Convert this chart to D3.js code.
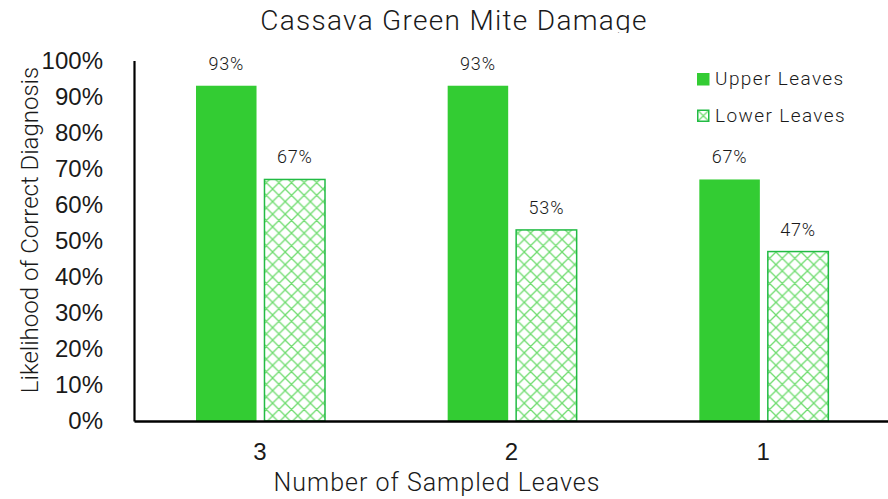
<!DOCTYPE html>
<html>
<head>
<meta charset="utf-8">
<script src="https://cdn.jsdelivr.net/npm/d3@7"></script>
<style>
  html, body { margin: 0; padding: 0; background: #fff; }
  svg { display: block; font-family: "Helvetica Neue", Roboto, "Liberation Sans", sans-serif; font-weight: 300; }
</style>
</head>
<body>
<svg id="chart" width="888" height="499"></svg>
<script>
// Sampled leaf counts and likelihood of a correct diagnosis (%)
const categories = ["3", "2", "1"];
const seriesNames = ["Upper Leaves", "Lower Leaves"];
const upperLeaves = [93, 93, 67];
const lowerLeaves = [67, 53, 47];
const yTicks = [0, 10, 20, 30, 40, 50, 60, 70, 80, 90, 100];

const svg = d3.select("#chart");
const margin = { left: 134, right: 0, top: 60.5, bottom: 78 };
const W = 888, H = 499;
const plotBottom = H - margin.bottom;
const ink = "#1a1a1a";

const defs = svg.append("defs");

// Crosshatch fill for the lower-leaves bars
const cell = 12.6;
const pat = defs.append("pattern")
  .attr("id", "hatch")
  .attr("patternUnits", "userSpaceOnUse")
  .attr("width", cell).attr("height", cell);
pat.append("rect").attr("width", cell).attr("height", cell).attr("fill", "#fff");
pat.append("path")
  .attr("d", `M0,0 L${cell},${cell} M${cell},0 L0,${cell}
              M-3,3 L3,-3 M${cell - 3},${cell + 3} L${cell + 3},${cell - 3}
              M-3,${cell - 3} L3,${cell + 3} M${cell - 3},-3 L${cell + 3},3`)
  .attr("stroke", "#6fdc6f").attr("stroke-width", 1.3).attr("fill", "none");

// The title sits in a band that trims its descenders
defs.append("clipPath").attr("id", "titleClip")
  .append("rect").attr("x", 0).attr("y", 0).attr("width", W).attr("height", 33);

const x = d3.scaleBand().domain(categories).range([margin.left, W - margin.right + 1]);
const x1 = d3.scaleBand().domain(seriesNames).range([62, 62 + 129]).paddingInner(15 / 129);
const y = d3.scaleLinear().domain([0, 100]).range([plotBottom, margin.top]);

const data = categories.map((c, i) => ({ cat: c, values: [upperLeaves[i], lowerLeaves[i]] }));

// Bars
const groups = svg.append("g").selectAll("g").data(data).join("g")
  .attr("transform", d => `translate(${x(d.cat)},0)`);

groups.selectAll("rect").data(d => d.values.map((v, k) => ({ v, s: seriesNames[k] })))
  .join("rect")
  .attr("x", d => x1(d.s))
  .attr("y", d => y(d.v))
  .attr("width", x1.bandwidth())
  .attr("height", d => plotBottom - y(d.v))
  .attr("fill", d => d.s === seriesNames[0] ? "#33cc33" : "url(#hatch)")
  .attr("stroke", d => d.s === seriesNames[0] ? "none" : "#22bb44")
  .attr("stroke-width", 1.5);

// Value labels
groups.selectAll("text").data(d => d.values.map((v, k) => ({ v, s: seriesNames[k] })))
  .join("text")
  .attr("x", d => x1(d.s) + x1.bandwidth() / 2)
  .attr("y", d => y(d.v) - 16)
  .attr("text-anchor", "middle")
  .attr("font-size", 18)
  .attr("letter-spacing", 0.8)
  .attr("fill", ink)
  .text(d => d.v + "%");

// Axes
const yAxis = svg.append("g")
  .attr("transform", `translate(${margin.left},0)`)
  .call(d3.axisLeft(y).tickValues(yTicks).tickFormat(d => d + "%").tickSize(0).tickPadding(31));
yAxis.select(".domain").attr("stroke", "#000").attr("stroke-width", 2.2);
yAxis.selectAll("text").attr("font-size", 24).attr("fill", ink)
  .attr("font-family", "inherit").attr("font-weight", 300);

const xAxis = svg.append("g")
  .attr("transform", `translate(0,${plotBottom})`)
  .call(d3.axisBottom(x).tickSize(0).tickPadding(22));
xAxis.select(".domain").attr("stroke", "#000").attr("stroke-width", 2.5);
xAxis.selectAll("text").attr("font-size", 24).attr("fill", ink)
  .attr("font-family", "inherit").attr("font-weight", 300);

// Titles
svg.append("g").attr("clip-path", "url(#titleClip)")
  .append("text")
  .attr("x", 454).attr("y", 30)
  .attr("text-anchor", "middle")
  .attr("font-size", 28).attr("letter-spacing", 1.3).attr("fill", ink)
  .text("Cassava Green Mite Damage");

svg.append("text")
  .attr("x", 437).attr("y", 491)
  .attr("text-anchor", "middle")
  .attr("font-size", 25).attr("letter-spacing", 1.0).attr("fill", ink)
  .text("Number of Sampled Leaves");

svg.append("text")
  .attr("transform", "translate(38,230) rotate(-90)")
  .attr("text-anchor", "middle")
  .attr("font-size", 24).attr("fill", ink)
  .text("Likelihood of Correct Diagnosis");

// Legend
const legend = svg.append("g").attr("transform", "translate(697,73)");
const items = legend.selectAll("g").data(seriesNames).join("g")
  .attr("transform", (d, i) => `translate(0,${i * 36.5})`);
items.append("rect")
  .attr("x", (d, i) => i ? 0.75 : 0).attr("y", (d, i) => i ? 0.75 : 0)
  .attr("width", (d, i) => i ? 11 : 12.5).attr("height", (d, i) => i ? 11 : 12.5)
  .attr("fill", (d, i) => i ? "url(#hatch)" : "#33cc33")
  .attr("stroke", (d, i) => i ? "#22bb44" : "none")
  .attr("stroke-width", 1.5);
items.append("text")
  .attr("x", 18).attr("y", 12)
  .attr("font-size", 19).attr("letter-spacing", 1.4).attr("fill", ink)
  .text(d => d);
</script>
</body>
</html>
